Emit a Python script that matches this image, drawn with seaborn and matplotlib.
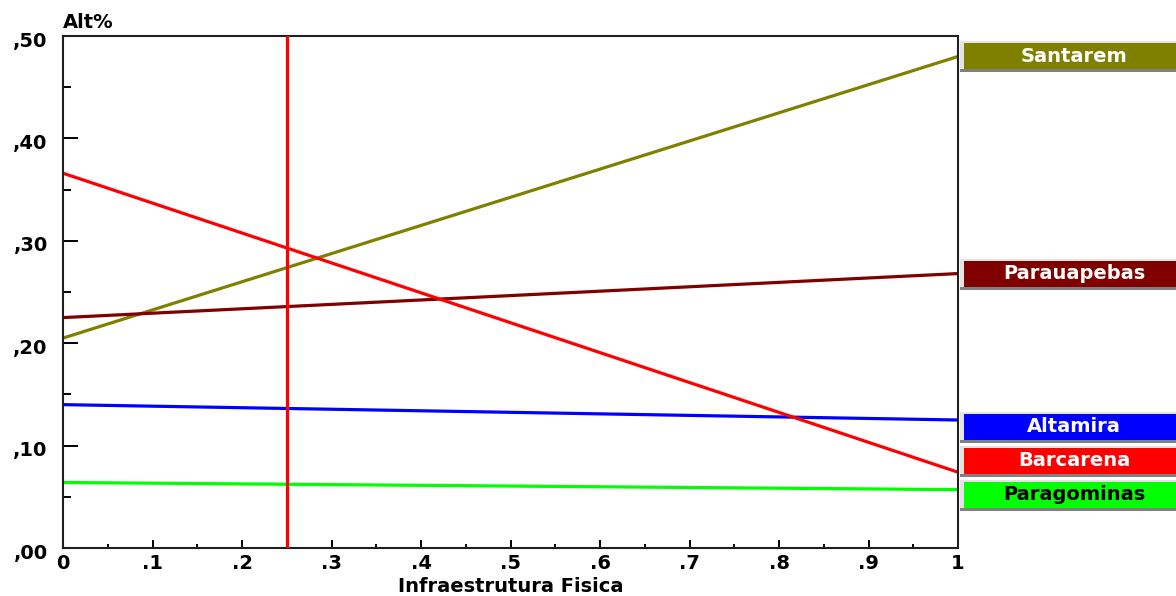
import matplotlib
matplotlib.use("Agg")
import matplotlib.pyplot as plt
import seaborn as sns
import pandas as pd
from matplotlib.patches import Rectangle
from matplotlib.ticker import FixedLocator, FixedFormatter, MultipleLocator
from matplotlib.transforms import ScaledTranslation

# ---- data ----
cities = ["Santarem", "Parauapebas", "Altamira", "Barcarena", "Paragominas"]
x_points = [0.0, 1.0]
santarem = [0.205, 0.480]
parauapebas = [0.225, 0.268]
altamira = [0.140, 0.125]
barcarena = [0.366, 0.074]
paragominas = [0.064, 0.057]
series = [santarem, parauapebas, altamira, barcarena, paragominas]
colors = ["#808000", "#800000", "#0000FF", "#FF0000", "#00FF00"]
text_colors = ["white", "white", "white", "white", "black"]
current_x = 0.25
x_ticks = [0, 0.1, 0.2, 0.3, 0.4, 0.5, 0.6, 0.7, 0.8, 0.9, 1.0]
x_tick_labels = ["0", ".1", ".2", ".3", ".4", ".5", ".6", ".7", ".8", ".9", "1"]
y_ticks = [0.0, 0.1, 0.2, 0.3, 0.4, 0.5]
y_tick_labels = [",00", ",10", ",20", ",30", ",40", ",50"]
x_label = "Infraestrutura Fisica"
y_label = "Alt%"

rows = []
for c, vals in zip(cities, series):
    for xv, yv in zip(x_points, vals):
        rows.append({"x": xv, "y": yv, "city": c})
df = pd.DataFrame(rows)

sns.set_style("white")
plt.rcParams["font.family"] = ["DejaVu Sans"]
plt.rcParams["font.weight"] = "bold"
for k in ["text.color", "axes.labelcolor", "xtick.color", "ytick.color"]:
    plt.rcParams[k] = "black"

W, H = 1176, 596
fig = plt.figure(figsize=(W / 100, H / 100), dpi=100)
ax = fig.add_axes([63 / W, (H - 548) / H, (958 - 63) / W, (548 - 36) / H])

sns.lineplot(data=df, x="x", y="y", hue="city", hue_order=cities,
             palette=dict(zip(cities, colors)), linewidth=2.3, ax=ax,
             legend=False)
ax.axvline(current_x, color="#FF0000", linewidth=2.3, zorder=5)

ax.set_xlim(0, 1)
ax.set_ylim(0, 0.5)
ax.xaxis.set_major_locator(FixedLocator(x_ticks))
ax.xaxis.set_major_formatter(FixedFormatter(x_tick_labels))
ax.yaxis.set_major_locator(FixedLocator(y_ticks))
ax.yaxis.set_major_formatter(FixedFormatter(y_tick_labels))
ax.xaxis.set_minor_locator(MultipleLocator(0.05))
ax.yaxis.set_minor_locator(MultipleLocator(0.05))
ax.tick_params(axis="x", which="major", direction="in", length=6, width=1.4,
               labelsize=14, pad=4, bottom=True)
ax.tick_params(axis="x", which="minor", direction="in", length=3, width=1.4,
               bottom=True)
ax.tick_params(axis="y", which="major", direction="in", length=11, width=1.4,
               labelsize=14, pad=11, left=True)
ax.tick_params(axis="y", which="minor", direction="in", length=6, width=1.4,
               left=True)
shift = ScaledTranslation(0, -3 / 100, fig.dpi_scale_trans)
for lab in ax.get_xticklabels() + ax.get_yticklabels():
    lab.set_fontweight("bold")
for lab in ax.get_yticklabels():
    lab.set_transform(lab.get_transform() + shift)
for sp in ax.spines.values():
    sp.set_color("#202020")
    sp.set_linewidth(1.5)
ax.set_xlabel(x_label, fontsize=14, fontweight="bold", labelpad=3)
ax.set_ylabel("")
fig.text(63 / W, 1 - 22 / H, y_label, fontsize=14, fontweight="bold",
         ha="left", va="center")

# ---- label boxes at line ends (repelled) ----
ends = [(vals[-1], i) for i, vals in enumerate(series)]
ends.sort(key=lambda t: -t[0])
gap = 0.0332
merge_gap = 0.045
groups = [[e] for e in ends]
changed = True
while changed:
    changed = False
    pos = []
    for g in groups:
        m = sum(v for v, _ in g) / len(g)
        top = m + gap * (len(g) - 1) / 2
        pos.append([top - gap * k for k in range(len(g))])
    for k in range(len(groups) - 1):
        if pos[k][-1] - pos[k + 1][0] < merge_gap:
            groups[k] = groups[k] + groups[k + 1]
            del groups[k + 1]
            changed = True
            break
label_y = {}
for g in groups:
    m = sum(v for v, _ in g) / len(g)
    top = m + gap * (len(g) - 1) / 2
    for k, (_, i) in enumerate(g):
        label_y[i] = top - gap * k

trans = ax.transData
for i, c in enumerate(cities):
    _, yp = trans.transform((1.0, label_y[i]))
    x0 = 964 / W
    w = (W - 964) / W
    h = 26 / H
    yc = yp / H
    fig.patches.append(Rectangle((x0 - 4 / W, yc - h / 2 - 3 / H), w + 4 / W, h + 5 / H,
                                 transform=fig.transFigure, facecolor="#e4e4e4",
                                 edgecolor="none", zorder=1))
    fig.patches.append(Rectangle((x0 - 4 / W, yc - h / 2 - 3 / H), w + 4 / W, 3 / H,
                                 transform=fig.transFigure, facecolor="#808080",
                                 edgecolor="none", zorder=2))
    fig.patches.append(Rectangle((x0, yc - h / 2), w, h,
                                 transform=fig.transFigure, facecolor=colors[i],
                                 edgecolor="none", zorder=3))
    fig.text(1074 / W, yc, c, color=text_colors[i], fontsize=14,
             fontweight="bold", ha="center", va="center", zorder=4)

fig.savefig("out.png", dpi=100, facecolor="white")
